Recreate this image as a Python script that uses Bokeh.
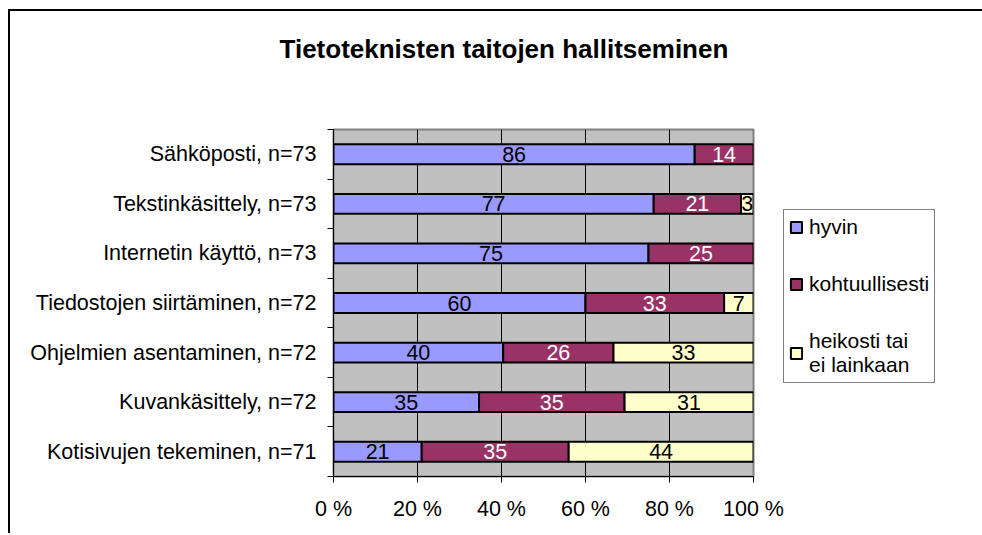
from bokeh.plotting import figure
from bokeh.models import (ColumnDataSource, FixedTicker, Legend, LegendItem, Title,
                          LabelSet, Range1d)
from bokeh.core.properties import value
from bokeh.embed import file_html
from bokeh.resources import INLINE

# ---------------- data ----------------
title_text = "Tietoteknisten taitojen hallitseminen"
categories = [
    "Sähköposti, n=73",
    "Tekstinkäsittely, n=73",
    "Internetin käyttö, n=73",
    "Tiedostojen siirtäminen, n=72",
    "Ohjelmien asentaminen, n=72",
    "Kuvankäsittely, n=72",
    "Kotisivujen tekeminen, n=71",
]
hyvin = [86, 77, 75, 60, 40, 35, 21]
kohtuullisesti = [14, 21, 25, 33, 26, 35, 35]
heikosti = [0, 3, 0, 7, 33, 31, 44]
series_names = ["hyvin", "kohtuullisesti", "heikosti tai\nei lainkaan"]
series_colors = ["#9999FF", "#993366", "#FFFFCC"]
label_colors = ["black", "white", "black"]
x_ticks = [0, 20, 40, 60, 80, 100]
x_tick_labels = ["0 %", "20 %", "40 %", "60 %", "80 %", "100 %"]

FONT = "Liberation Sans"
FS = "21.5px"

n = len(categories)
ycenters = [n - i - 0.5 for i in range(n)]
totals = [a + b + c for a, b, c in zip(hyvin, kohtuullisesti, heikosti)]

p = figure(frame_width=420, frame_height=347, output_backend="svg", toolbar_location=None,
           x_range=Range1d(0, 100), y_range=Range1d(0, n),
           min_border_left=323, min_border_top=118, min_border_right=227,
           min_border_bottom=57)
# outer chart-area border: only its left and top edges fall inside the window
p.styles = {"margin-left": "8px", "margin-top": "9px",
            "border-left": "2px solid #000", "border-top": "2px solid #000"}

p.background_fill_color = "#C0C0C0"
p.border_fill_color = "white"
p.outline_line_color = "#808080"
p.outline_line_width = 2

series = [hyvin, kohtuullisesti, heikosti]
cum = [0.0] * n
legend_items = []
for vals, name, col, lcol in zip(series, series_names, series_colors, label_colors):
    left, right, ys, txt, mids = [], [], [], [], []
    for i in range(n):
        l = cum[i] / totals[i] * 100
        r = (cum[i] + vals[i]) / totals[i] * 100
        cum[i] += vals[i]
        if vals[i] == 0:
            continue
        left.append(l)
        right.append(r)
        ys.append(ycenters[i])
        txt.append(str(vals[i]))
        mids.append((l + r) / 2)
    src = ColumnDataSource(dict(left=left, right=right, y=ys, txt=txt, mid=mids))
    r_ = p.hbar(y="y", left="left", right="right", height=0.4, source=src,
                fill_color=col, line_color="black", line_width=2)
    legend_items.append(LegendItem(label=name, renderers=[r_]))
    lab = LabelSet(x="mid", y="y", text="txt", source=src, text_align="center",
                   text_baseline="middle", text_color=lcol,
                   text_font_size=value(FS), text_font=value(FONT))
    p.add_layout(lab)

# x axis
p.xaxis.ticker = FixedTicker(ticks=x_ticks)
p.xaxis.major_label_overrides = {t: l for t, l in zip(x_ticks, x_tick_labels)}
p.xaxis.major_tick_out = 6
p.xaxis.major_tick_in = 0
p.xaxis.minor_tick_line_color = None
p.xaxis.major_label_standoff = 14
p.xaxis.major_label_text_font_size = FS
p.xaxis.major_label_text_font = FONT
p.xaxis.major_label_text_color = "black"
p.xaxis.axis_line_color = "black"
p.xaxis.major_tick_line_color = "black"

# y axis
p.yaxis.ticker = FixedTicker(ticks=ycenters, minor_ticks=list(range(n + 1)))
p.yaxis.major_label_overrides = {c: name for c, name in zip(ycenters, categories)}
p.yaxis.major_tick_line_color = None
p.yaxis.major_tick_out = 0
p.yaxis.major_tick_in = 0
p.yaxis.minor_tick_line_color = "black"
p.yaxis.minor_tick_out = 6
p.yaxis.minor_tick_in = 0
p.yaxis.major_label_standoff = 11
p.yaxis.major_label_text_font_size = FS
p.yaxis.major_label_text_font = FONT
p.yaxis.major_label_text_color = "black"
p.yaxis.axis_line_color = "black"

p.xgrid.ticker = FixedTicker(ticks=x_ticks)
p.xgrid.grid_line_color = "black"
p.xgrid.grid_line_width = 1
p.ygrid.grid_line_color = None

legend = Legend(items=legend_items, location=(30, 93), orientation="vertical",
                label_text_font_size="21px", label_text_font=FONT,
                label_text_color="black",
                glyph_width=14, glyph_height=14, label_standoff=6,
                padding=5, spacing=33, margin=0,
                border_line_color="black", border_line_width=1,
                background_fill_color="white", background_fill_alpha=1)
p.add_layout(legend, "right")

# blank spacer between the title and the plot area (nearest the frame)
spacer = Title(text=" ", standoff=24, text_font_size="26px", text_font=FONT)
p.add_layout(spacer, "above")
t = Title(text=title_text, align="left", offset=-54, standoff=20,
          text_font_size="26px", text_font=FONT, text_font_style="bold",
          text_color="black")
p.add_layout(t, "above")

open("out.html", "w").write(file_html(p, INLINE))
